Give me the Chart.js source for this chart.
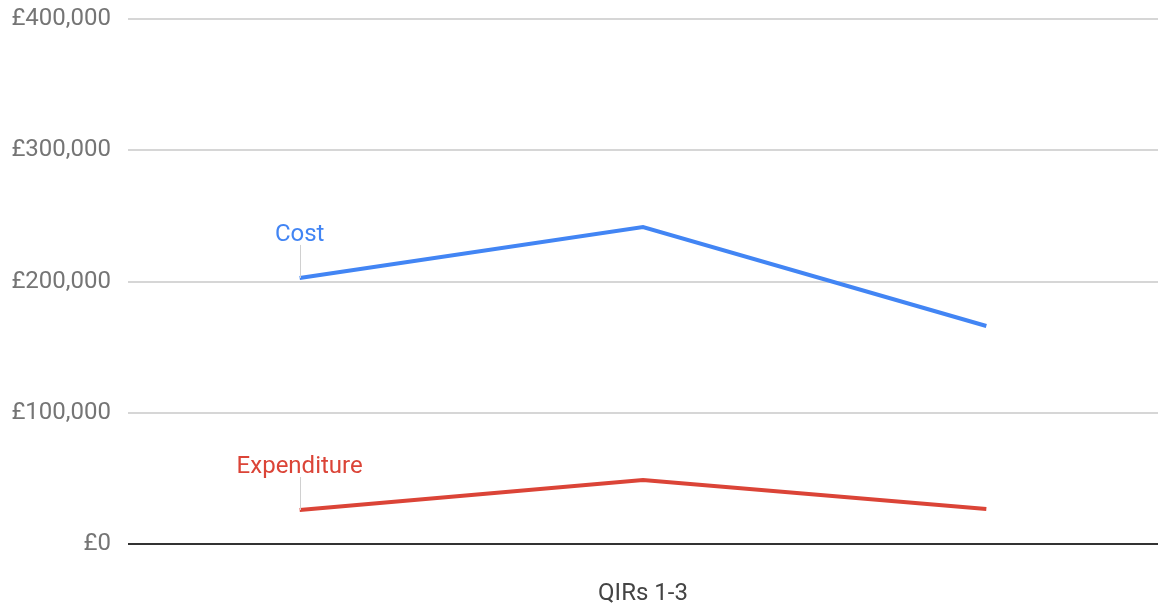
<!DOCTYPE html>
<html>
<head>
<meta charset="utf-8">
<script src="https://cdn.jsdelivr.net/npm/chart.js@4/dist/chart.umd.min.js"></script>
<style>
  html, body { margin: 0; padding: 0; background: #fff; }
  #wrap { width: 1163px; height: 610px; position: relative; }
</style>
</head>
<body>
<div id="wrap"><canvas id="qirCanvas"></canvas></div>
<script>
// Dados (QIRs 1-3)
const CATEGORIES  = ['QIR 1', 'QIR 2', 'QIR 3'];
const COST        = [202700, 241500, 166100];
const EXPENDITURE = [25900, 48800, 26700];
const Y_TICKS     = [0, 100000, 200000, 300000, 400000];
const X_TITLE     = 'QIRs 1-3';

const COL_COST = '#4285f4';
const COL_EXP  = '#db4437';

Chart.defaults.font.family = "Roboto, 'Noto Sans', sans-serif";

// Rótulo da série acima do primeiro ponto, com linha-guia fina
const seriesLabels = {
  id: 'seriesLabels',
  afterDatasetsDraw(chart) {
    const ctx = chart.ctx;
    chart.data.datasets.forEach((ds, i) => {
      const pt = chart.getDatasetMeta(i).data[0];
      if (!pt) return;
      ctx.save();
      ctx.strokeStyle = '#d0d0d0';
      ctx.lineWidth = 1;
      ctx.beginPath();
      ctx.moveTo(Math.round(pt.x) + 0.5, pt.y - 33);
      ctx.lineTo(Math.round(pt.x) + 0.5, pt.y);
      ctx.stroke();
      ctx.fillStyle = ds.borderColor;
      ctx.font = "24px Roboto, 'Noto Sans', sans-serif";
      ctx.textAlign = 'center';
      ctx.textBaseline = 'alphabetic';
      ctx.fillText(ds.label, pt.x, pt.y - 37);
      ctx.restore();
    });
  }
};

new Chart(document.getElementById('qirCanvas'), {
  type: 'line',
  data: {
    labels: CATEGORIES,
    datasets: [
      { label: 'Cost', data: COST, borderColor: COL_COST, borderWidth: 4, pointRadius: 0, tension: 0, fill: false },
      { label: 'Expenditure', data: EXPENDITURE, borderColor: COL_EXP, borderWidth: 4, pointRadius: 0, tension: 0, fill: false },
    ],
  },
  options: {
    responsive: true,
    maintainAspectRatio: false,
    animation: false,
    layout: { padding: { top: 19, right: 5, left: 0, bottom: 0 } },
    plugins: { legend: { display: false }, tooltip: { enabled: false } },
    scales: {
      x: {
        offset: true,
        grid: { display: false, drawTicks: false },
        border: { display: false },
        ticks: { display: false },
        title: {
          display: true,
          text: X_TITLE,
          color: '#444',
          font: { size: 24 },
          padding: { top: 0, bottom: 2 },
        },
        afterFit(scale) { scale.height = 66; },
      },
      y: {
        min: Y_TICKS[0],
        max: Y_TICKS[Y_TICKS.length - 1],
        afterBuildTicks(scale) { scale.ticks = Y_TICKS.map(v => ({ value: v })); },
        grid: {
          drawTicks: false,
          lineWidth: 2,
          color: c => (c.tick && c.tick.value === 0 ? '#333333' : '#d6d6d6'),
        },
        border: { display: false },
        ticks: {
          padding: 17,
          color: '#757575',
          font: { size: 24 },
          callback: v => '£' + Number(v).toLocaleString('en-GB'),
        },
        afterFit(scale) {
          scale.width = 128;
          scale.paddingTop = 0;
          scale.paddingBottom = 0;
        },
      },
    },
  },
  plugins: [seriesLabels],
});
</script>
</body>
</html>
